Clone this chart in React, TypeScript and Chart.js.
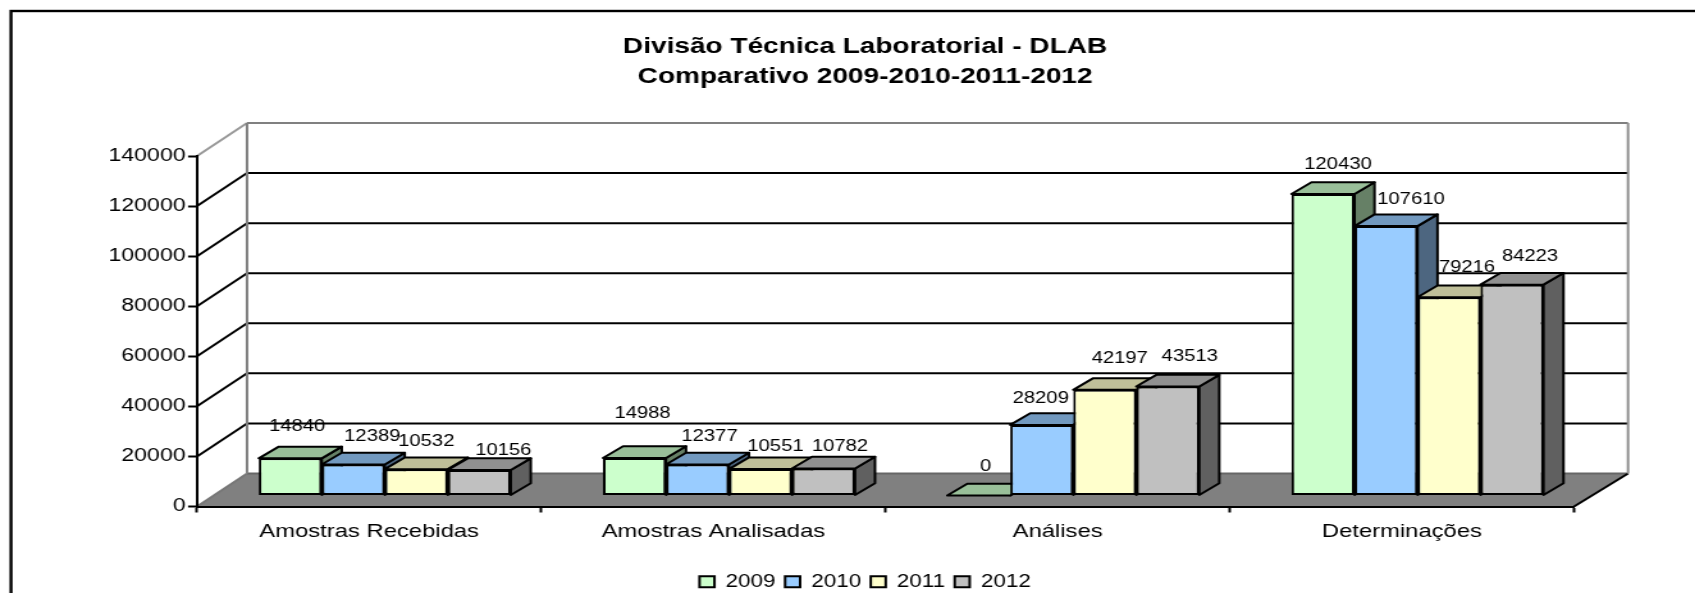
import React, { useEffect, useRef } from "react";
import { Chart, registerables } from "chart.js";

Chart.register(...registerables);

const titleLines = ["Divisão Técnica Laboratorial - DLAB", "Comparativo 2009-2010-2011-2012"];
const categories = ["Amostras Recebidas", "Amostras Analisadas", "Análises", "Determinações"];
const years = ["2009", "2010", "2011", "2012"];
const values2009 = [14840, 14988, 0, 120430];
const values2010 = [12389, 12377, 28209, 107610];
const values2011 = [10532, 10551, 42197, 79216];
const values2012 = [10156, 10782, 43513, 84223];
const yStep = 20000;
const yMax = 140000;

const seriesValues = [values2009, values2010, values2011, values2012];
const frontColors = ["#CCFFCC", "#99CCFF", "#FFFFCC", "#C0C0C0"];
const topColors = ["#99BF99", "#7299BF", "#BFBF99", "#909090"];
const sideColors = ["#668066", "#4D6680", "#808066", "#606060"];

// The reference is horizontally stretched: the canvas is drawn narrower and shown at full width.
const PAGE_W = 1695;
const PAGE_H = 593;
const CANVAS_W = 1324;
const SX = PAGE_W / CANVAS_W;
const FONT = "'Liberation Sans', Arial, sans-serif";

const WALL_DX = 50 / SX;
const WALL_DY = 33;
const BAR_DX = 15.6 / SX;
const BAR_DY = 11;
const DEPTH_DX = 20 / SX;
const DEPTH_DY = 11.7;

// Label nudges from the front-top centre of each bar: [series][category] = [x (page px), y]
const labelNudges = [
  [[7, -31.5], [8, -44.5], [7, -28.5], [15, -29.5]],
  [[19, -27.5], [12, -27.5], [-1, -26.5], [25, -26.5]],
  [[10, -27], [15, -22.5], [15, -31.5], [18, -30]],
  [[24, -19.5], [16.5, -21.5], [22, -29.5], [18, -27.5]],
];

function poly(ctx: CanvasRenderingContext2D, pts: number[][], fill: string | null, stroke: string | null, lw = 2) {
  ctx.beginPath();
  pts.forEach((p, i) => (i ? ctx.lineTo(p[0], p[1]) : ctx.moveTo(p[0], p[1])));
  ctx.closePath();
  if (fill) {
    ctx.fillStyle = fill;
    ctx.fill();
  }
  if (stroke) {
    ctx.strokeStyle = stroke;
    ctx.lineWidth = lw;
    ctx.lineJoin = "round";
    ctx.stroke();
  }
}

function line(ctx: CanvasRenderingContext2D, x1: number, y1: number, x2: number, y2: number, color: string, lw = 2) {
  ctx.beginPath();
  ctx.moveTo(x1, y1);
  ctx.lineTo(x2, y2);
  ctx.strokeStyle = color;
  ctx.lineWidth = lw;
  ctx.stroke();
}

const chart3d = {
  id: "chart3d",
  beforeDraw(chart: any) {
    const { ctx, chartArea: a, scales } = chart;
    ctx.save();
    ctx.fillStyle = "#fff";
    ctx.fillRect(0, 0, chart.width, chart.height);
    ctx.strokeStyle = "#000";
    ctx.lineWidth = 2.4;
    ctx.strokeRect(11 / SX, 11, chart.width + 50, chart.height + 50);

    const y0 = scales.y.getPixelForValue(0);
    const yTop = scales.y.getPixelForValue(yMax);
    const backR = a.right + WALL_DX * 1.08;
    // floor
    poly(ctx, [[a.left, y0], [a.left + WALL_DX, y0 - WALL_DY], [backR, y0 - WALL_DY], [a.right, y0]], "#808080", null);
    line(ctx, a.left + WALL_DX, y0 - WALL_DY, backR, y0 - WALL_DY, "#666666");
    line(ctx, a.right, y0, backR, y0 - WALL_DY, "#000");
    line(ctx, a.left, y0, a.left + WALL_DX, y0 - WALL_DY, "#777777");
    // grid lines on the side and back walls
    scales.y.ticks.forEach((t: any) => {
      if (t.value === 0 || t.value === yMax) return;
      const y = scales.y.getPixelForValue(t.value);
      line(ctx, a.left, y, a.left + WALL_DX, y - WALL_DY, "#000");
      line(ctx, a.left + WALL_DX, y - WALL_DY, backR, y - WALL_DY, "#000");
    });
    // wall outline
    line(ctx, a.left, yTop, a.left + WALL_DX, yTop - WALL_DY, "#999999");
    line(ctx, a.left + WALL_DX, yTop - WALL_DY, backR, yTop - WALL_DY, "#808080");
    line(ctx, a.left + WALL_DX, yTop - WALL_DY, a.left + WALL_DX, y0 - WALL_DY, "#808080");
    line(ctx, backR, yTop - WALL_DY, backR, y0 - WALL_DY, "#909090");
    ctx.restore();
  },
  beforeDatasetsDraw(chart: any) {
    const { ctx } = chart;
    ctx.save();
    ctx.translate(BAR_DX, -BAR_DY);
    chart.data.datasets.forEach((_: any, i: number) => {
      chart.getDatasetMeta(i).data.forEach((el: any) => {
        const { x, y, base, width } = el.getProps(["x", "y", "base", "width"], true);
        const l = x - width / 2;
        const r = x + width / 2;
        poly(ctx, [[r, y], [r + DEPTH_DX, y - DEPTH_DY], [r + DEPTH_DX, base - DEPTH_DY], [r, base]], sideColors[i], "#000");
        poly(ctx, [[l, y], [l + DEPTH_DX, y - DEPTH_DY], [r + DEPTH_DX, y - DEPTH_DY], [r, y]], topColors[i], "#000");
        el.draw(ctx);
      });
    });
    ctx.restore();
    return false;
  },
  afterDraw(chart: any) {
    const { ctx } = chart;
    ctx.save();
    ctx.font = `15.8px ${FONT}`;
    ctx.fillStyle = "#000";
    ctx.textAlign = "center";
    ctx.textBaseline = "middle";
    chart.data.datasets.forEach((ds: any, i: number) => {
      chart.getDatasetMeta(i).data.forEach((el: any, j: number) => {
        const { x, y } = el.getProps(["x", "y"], true);
        const n = labelNudges[i][j];
        ctx.fillText(String(ds.data[j]), x + BAR_DX + n[0] / SX, y - BAR_DY + n[1]);
      });
    });
    ctx.restore();
  },
};

export default function App() {
  const ref = useRef<HTMLCanvasElement | null>(null);
  useEffect(() => {
    const canvas = ref.current!;
    const chart = new Chart(canvas, {
      type: "bar",
      data: {
        labels: categories,
        datasets: years.map((y, i) => ({
          label: y,
          data: seriesValues[i],
          backgroundColor: frontColors[i],
          borderColor: "#000",
          borderWidth: 2,
          borderSkipped: false,
          categoryPercentage: 0.732,
          barPercentage: 1,
        })),
      },
      options: {
        responsive: false,
        animation: false,
        devicePixelRatio: 1,
        layout: { padding: { left: 122, right: 94.5, top: 0, bottom: -7.5 } },
        scales: {
          x: {
            grid: { drawOnChartArea: false, drawTicks: true, tickLength: 6, tickColor: "#000", tickWidth: 2 },
            border: { color: "#000", width: 2 },
            ticks: { font: { family: FONT, size: 18.6 }, color: "#000", padding: 8, maxRotation: 0 },
            afterFit: (s: any) => {
              s.height = 59;
            },
          },
          y: {
            min: 0,
            max: yMax,
            grid: { drawOnChartArea: false, drawTicks: true, tickLength: 7, tickColor: "#000", tickWidth: 2 },
            border: { color: "#000", width: 2 },
            ticks: {
              stepSize: yStep,
              font: { family: FONT, size: 18 },
              color: "#000",
              padding: 2,
              callback: (v: any) => String(v),
            },
            afterFit: (s: any) => {
              s.width = 31.9;
              // the tick labels reach past this narrowed box: do not clip them to it
              s._computeLabelArea = () => undefined;
            },
          },
        },
        plugins: {
          title: {
            display: true,
            text: titleLines,
            color: "#000",
            font: { family: FONT, size: 21.9, weight: "bold", lineHeight: 30 / 21.9 },
            padding: { top: 32, bottom: 64 },
          },
          legend: {
            display: true,
            position: "bottom",
            labels: {
              boxWidth: 11.7,
              boxHeight: 11,
              padding: 7.5,
              color: "#000",
              font: { family: FONT, size: 17.5 },
            },
          },
          tooltip: { enabled: false },
        },
      },
      plugins: [chart3d],
    } as any);
    canvas.style.width = PAGE_W + "px";
    canvas.style.height = PAGE_H + "px";
    return () => chart.destroy();
  }, []);
  return (
    <div style={{ position: "fixed", left: 0, top: 0, width: PAGE_W, height: PAGE_H, overflow: "hidden", background: "#fff" }}>
      <canvas ref={ref} width={CANVAS_W} height={PAGE_H} style={{ display: "block", width: PAGE_W, height: PAGE_H }} />
    </div>
  );
}
